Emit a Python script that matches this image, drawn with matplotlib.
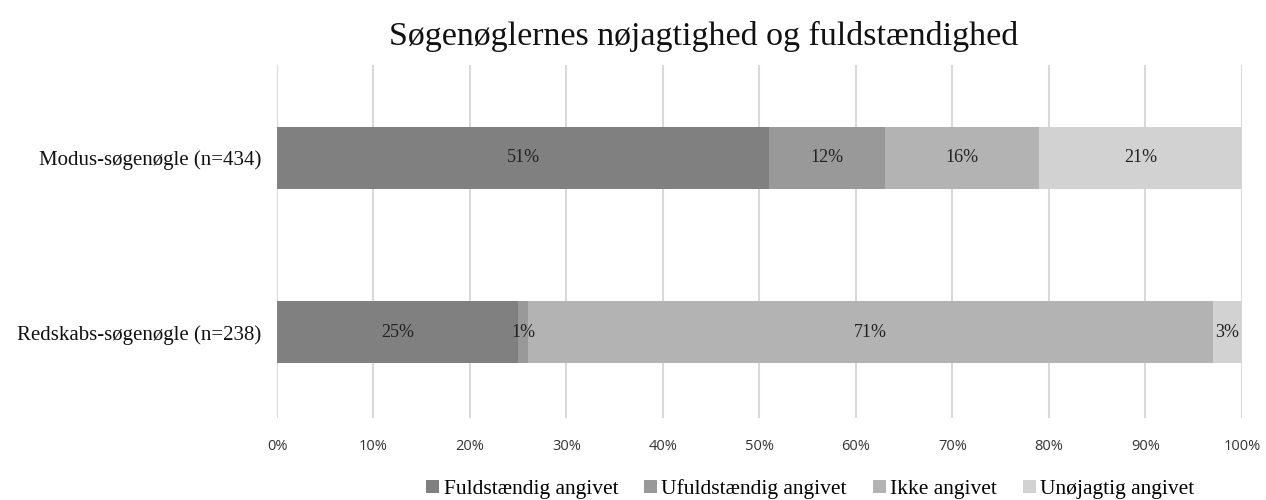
import matplotlib.pyplot as plt
import numpy as np

# Data
categories = ['Modus-søgenøgle (n=434)', 'Redskabs-søgenøgle (n=238)']
series_names = ['Fuldstændig angivet', 'Ufuldstændig angivet', 'Ikke angivet', 'Unøjagtig angivet']
fuldstaendig = [51, 25]
ufuldstaendig = [12, 1]
ikke = [16, 71]
unojagtig = [21, 3]
x_ticks = [0, 10, 20, 30, 40, 50, 60, 70, 80, 90, 100]

colors = ['#808080', '#999999', '#b3b3b3', '#d2d2d2']
serif = 'Liberation Serif'

fig = plt.figure(figsize=(12.66, 5.0), dpi=100)
fig.patch.set_facecolor('white')
ax = fig.add_axes([0.2188, 0.164, 0.7622, 0.706])

y = np.arange(len(categories))
left = np.zeros(len(categories))
for name, vals, col in zip(series_names, [fuldstaendig, ufuldstaendig, ikke, unojagtig], colors):
    vals = np.array(vals, dtype=float)
    ax.barh(y, vals, left=left, height=0.355, color=col, label=name, zorder=3)
    for yi, l, v in zip(y, left, vals):
        ax.text(l + v / 2, yi, f'{int(v)}%', ha='center', va='center',
                fontsize=13, family=serif, color='#222222', zorder=4)
    left += vals

ax.set_xlim(0, 100)
ax.set_ylim(1.49, -0.53)
ax.set_xticks(x_ticks)
ax.set_xticklabels([f'{t}%' for t in x_ticks], family='Open Sans', fontsize=10.5, color='#333333')
ax.set_yticks(y)
ax.set_yticklabels(categories, family=serif, fontsize=15, color='#111111')
ax.tick_params(axis='both', length=0)
ax.tick_params(axis='x', pad=15)
ax.tick_params(axis='y', pad=11)
ax.grid(True, axis='x', color='#d9d9d9', linewidth=1.5, zorder=0)
for s in ax.spines.values():
    s.set_visible(False)

fig.text(0.556, 0.928, 'Søgenøglernes nøjagtighed og fuldstændighed', family=serif,
         fontsize=24.5, ha='center', va='center', color='#111111')

fig.legend(loc='center', bbox_to_anchor=(0.64, 0.022), ncol=4, frameon=False,
           prop={'family': serif, 'size': 15.5}, handlelength=0.6, handleheight=0.6,
           handletextpad=0.2, columnspacing=1.2)

fig.savefig('out.png', dpi=100, facecolor='white')
